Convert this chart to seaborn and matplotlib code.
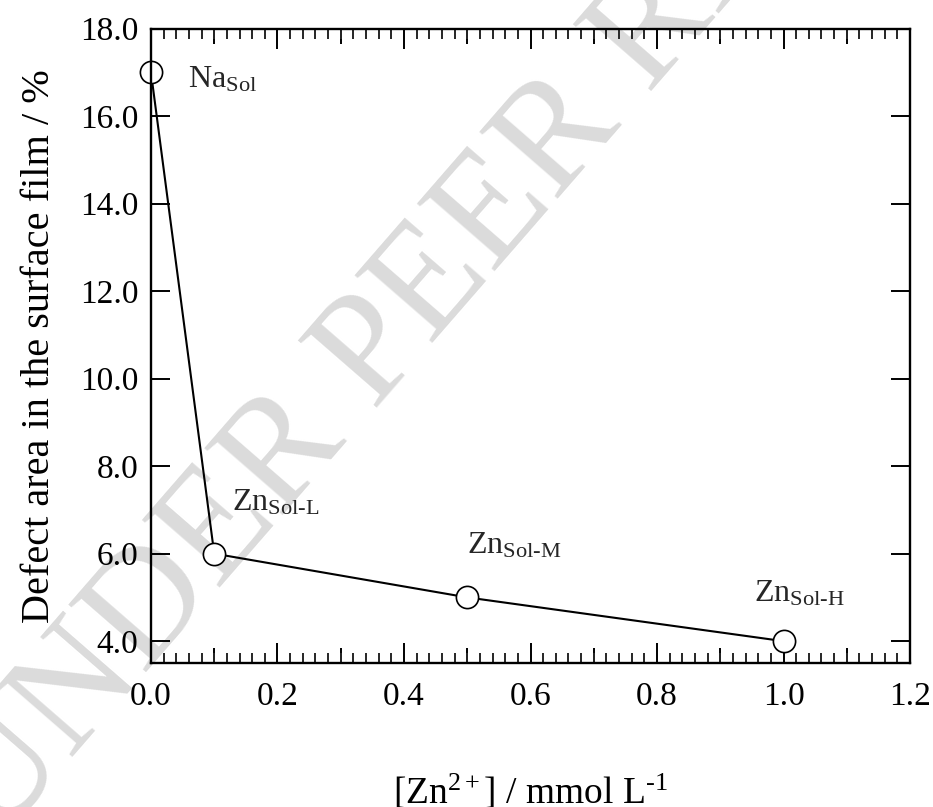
import numpy as np
import pandas as pd
import matplotlib
matplotlib.use("Agg")
import matplotlib.pyplot as plt
import seaborn as sns
from matplotlib.ticker import MultipleLocator, FixedLocator, FormatStrFormatter, NullFormatter

# ---- data ----
zn_conc = [0.0, 0.1, 0.5, 1.0]
defect_area = [17.0, 6.0, 5.0, 4.0]
sample_labels = [r"Na$_{\rm Sol}$", r"Zn$_{\rm Sol\text{-}L}$", r"Zn$_{\rm Sol\text{-}M}$", r"Zn$_{\rm Sol\text{-}H}$"]
label_x = [0.058, 0.128, 0.50, 0.953]
label_y = [16.65, 6.98, 6.0, 4.9]
x_ticks = [0.0, 0.2, 0.4, 0.6, 0.8, 1.0, 1.2]
y_ticks = [4.0, 6.0, 8.0, 10.0, 12.0, 14.0, 16.0, 18.0]
mid_ticks = [0.1, 0.3, 0.5, 0.7, 0.9, 1.1]

df = pd.DataFrame({"x": zn_conc, "y": defect_area})

sns.set_theme(style="ticks")
plt.rcParams["font.family"] = ["Liberation Serif", "DejaVu Serif"]
plt.rcParams["mathtext.fontset"] = "custom"
plt.rcParams["mathtext.rm"] = "Liberation Serif"
plt.rcParams["mathtext.it"] = "Liberation Serif:italic"
plt.rcParams["mathtext.bf"] = "Liberation Serif:bold"

fig = plt.figure(figsize=(9.33, 8.07), dpi=100)
fig.patch.set_facecolor("white")
ax = fig.add_axes([0.1618, 0.1784, 0.8136, 0.7862])
ax.set_facecolor("none")
ax.set_zorder(1)

# watermark
fig.text(0.528, 0.731, "UNDER PEER REVIEW", fontsize=112, color="#dbdbdb",
         rotation=49, ha="center", va="center", rotation_mode="anchor", zorder=0)

sns.lineplot(data=df, x="x", y="y", ax=ax, color="black", linewidth=1.5,
             marker="o", markersize=16, markerfacecolor="white",
             markeredgecolor="black", markeredgewidth=1.2)
for l in ax.lines:
    l.set_clip_on(False)

for t, xx, yy in zip(sample_labels, label_x, label_y):
    ax.text(xx, yy, t, fontsize=23, ha="left", va="baseline")

ax.set_xlim(0, 1.2)
ax.set_ylim(3.5, 18.0)
ax.xaxis.set_major_locator(FixedLocator(x_ticks))
ax.xaxis.set_minor_locator(MultipleLocator(0.02))
ax.yaxis.set_major_locator(FixedLocator(y_ticks))
ax.xaxis.set_major_formatter(FormatStrFormatter("%.1f"))
ax.yaxis.set_major_formatter(FormatStrFormatter("%.1f"))

ax.tick_params(axis="x", which="major", direction="in", length=14.4, width=1.4,
               top=True, bottom=True, labelsize=24, pad=13, colors="black")
ax.tick_params(axis="x", which="minor", direction="in", length=7.5, width=1.4,
               top=True, bottom=True)
ax.tick_params(axis="y", which="major", direction="in", length=13.7, width=1.4,
               left=True, right=True, labelsize=24, pad=9, colors="black")
for s in ax.spines.values():
    s.set_linewidth(1.7)
    s.set_color("black")
    s.set_visible(True)

# medium ticks at odd tenths on bottom and top
for loc in ("bottom", "top"):
    sec = ax.secondary_xaxis(loc)
    sec.xaxis.set_major_locator(FixedLocator(mid_ticks))
    sec.xaxis.set_major_formatter(NullFormatter())
    sec.tick_params(direction="in", length=10.8, width=1.4, colors="black")
    sec.spines[loc].set_visible(False)

ax.set_xlabel(r"[Zn$^{2+}$] / mmol L$^{\text{-}1}$", fontsize=27, labelpad=44, color="black")
ax.set_ylabel("Defect area in the surface film / %", fontsize=29, labelpad=16, color="black")

fig.savefig("out.png", dpi=100, facecolor="white")
